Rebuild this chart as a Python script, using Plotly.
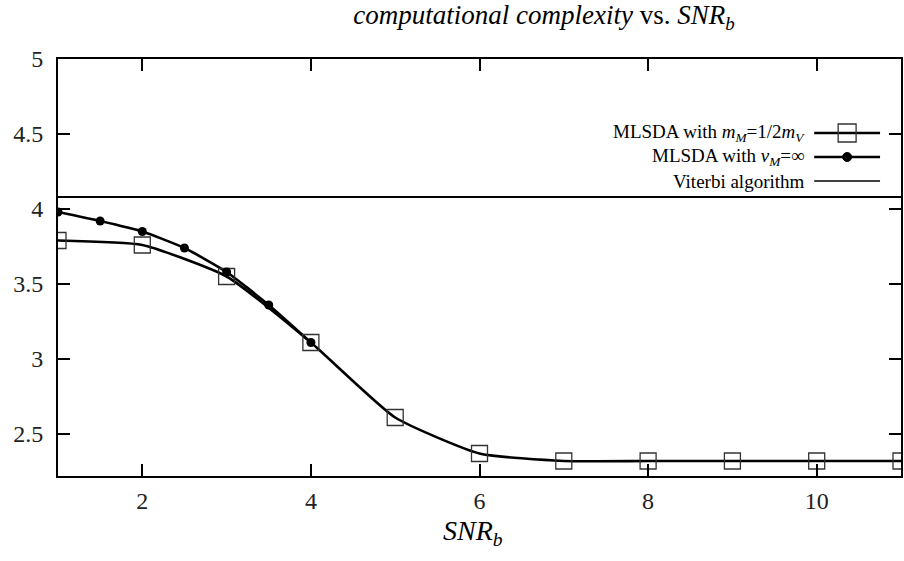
import plotly.graph_objects as go

# Measured complexity vs SNR_b
snr_half = [1, 2, 3, 4, 5, 6, 7, 8, 9, 10, 11]
cplx_half = [3.79, 3.76, 3.55, 3.11, 2.61, 2.37, 2.32, 2.32, 2.32, 2.32, 2.32]

snr_inf = [1, 1.5, 2, 2.5, 3, 3.5, 4]
cplx_inf = [3.98, 3.92, 3.85, 3.74, 3.58, 3.36, 3.11]

viterbi_level = 4.08

x_ticks = [2, 4, 6, 8, 10]
y_ticks = [2.5, 3, 3.5, 4, 4.5, 5]

legend_labels = [
    "MLSDA with <i>m</i><sub><i>M</i></sub>=1/2<i>m</i><sub><i>V</i></sub>",
    "MLSDA with <i>v</i><sub><i>M</i></sub>=\u221e",
    "Viterbi algorithm",
]

FONT = "Liberation Serif"

fig = go.Figure()

fig.add_trace(go.Scatter(
    x=[1, 11], y=[viterbi_level, viterbi_level], mode="lines",
    line=dict(color="black", width=2), showlegend=False,
))
fig.add_trace(go.Scatter(
    x=snr_half, y=cplx_half, mode="lines",
    line=dict(color="black", width=2.6, shape="spline", smoothing=0.5),
    showlegend=False,
))
fig.add_trace(go.Scatter(
    x=snr_inf, y=cplx_inf, mode="lines",
    line=dict(color="black", width=2.6, shape="spline", smoothing=0.5),
    showlegend=False,
))
fig.add_trace(go.Scatter(
    x=snr_half, y=cplx_half, mode="markers",
    marker=dict(symbol="square-open", size=16, color="#333333",
                line=dict(width=1.3)),
    showlegend=False,
))
fig.add_trace(go.Scatter(
    x=snr_inf, y=cplx_inf, mode="markers",
    marker=dict(symbol="circle", size=9, color="black"),
    showlegend=False,
))

# Hand-built key in the upper right corner: text on the left, sample on the right
L, R, T, B = 58, 1, 59, 85
W, H = 904, 561
pw, ph = W - L - R, H - T - B


def px(xp):
    return (xp - L) / pw


def py(yp):
    return 1 - (yp - T) / ph


rows = [133, 157, 181]
shapes = []
annotations = []
for i, (lab, yr) in enumerate(zip(legend_labels, rows)):
    annotations.append(dict(
        x=px(809), y=py(yr), xref="paper", yref="paper",
        text=lab, showarrow=False, xanchor="right", yanchor="middle",
        font=dict(family=FONT, size=19, color="black"),
    ))
    shapes.append(dict(
        type="line", xref="paper", yref="paper",
        x0=px(816), x1=px(882), y0=py(yr), y1=py(yr),
        line=dict(color="black", width=2.6 if i < 2 else 1.5),
    ))
cx = 849
shapes.append(dict(
    type="rect", xref="paper", yref="paper",
    x0=px(cx - 9), x1=px(cx + 9), y0=py(rows[0] - 9), y1=py(rows[0] + 9),
    line=dict(color="#333333", width=1.3), fillcolor="rgba(0,0,0,0)",
))
shapes.append(dict(
    type="circle", xref="paper", yref="paper",
    x0=px(cx - 4.5), x1=px(cx + 4.5), y0=py(rows[1] - 4.5), y1=py(rows[1] + 4.5),
    line=dict(color="black", width=1), fillcolor="black",
))

annotations.append(dict(
    x=px(474), y=py(532), xref="paper", yref="paper",
    text="<i>SNR</i><sub><i>b</i></sub>", showarrow=False,
    xanchor="center", yanchor="middle",
    font=dict(family=FONT, size=28, color="black"),
))

axis_common = dict(
    showline=True, linecolor="black", linewidth=2, mirror="ticks",
    ticks="inside", ticklen=12, tickwidth=2, tickcolor="black",
    showgrid=False, zeroline=False,
    tickfont=dict(family=FONT, size=24, color="#222222"),
)

fig.update_layout(
    width=W, height=H,
    margin=dict(l=L, r=R, t=T, b=B),
    plot_bgcolor="white", paper_bgcolor="white",
    title=dict(
        text="<i>computational complexity</i> vs. <i>SNR</i><sub><i>b</i></sub>",
        x=544 / W, xanchor="center", y=1 - 15 / H, yanchor="middle",
        xref="container", yref="container",
        font=dict(family=FONT, size=27, color="black"),
    ),
    xaxis=dict(range=[1, 11], tickvals=x_ticks, ticklabelstandoff=2,
               **axis_common),
    yaxis=dict(range=[2.22, 5], tickvals=y_ticks, ticklabelstandoff=8,
               **axis_common),
    shapes=shapes,
    annotations=annotations,
    showlegend=False,
)

fig.write_html("out.html")
